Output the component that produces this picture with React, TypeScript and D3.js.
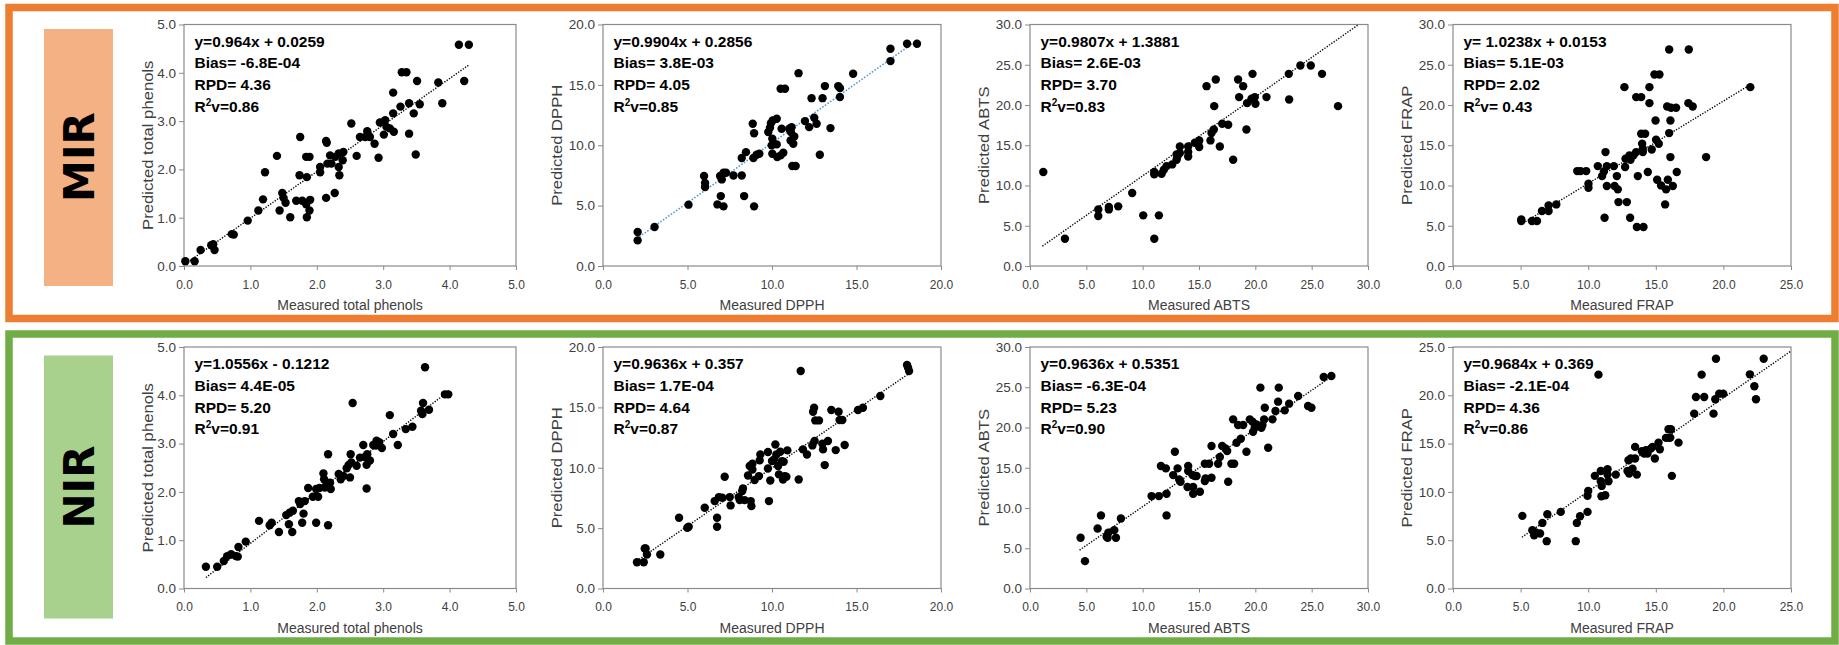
import React from 'react';
import * as d3 from 'd3';

// points: [measured, predicted]
const mirPhenols = [[0.02,0.10],[0.16,0.10],[0.25,0.33],[0.41,0.43],[0.44,0.45],[0.46,0.33],[0.72,0.66],[0.75,0.65],[0.96,0.94],[1.12,1.15],[1.19,1.38],[1.22,1.94],[1.40,2.28],[1.44,1.15],[1.48,1.51],[1.50,1.41],[1.53,1.31],[1.60,1.01],[1.69,1.35],[1.74,1.88],[1.75,2.67],[1.78,1.35],[1.84,2.26],[1.85,1.84],[1.85,1.01],[1.84,1.28],[1.89,2.26],[1.90,1.37],[1.89,1.15],[2.05,2.05],[2.05,1.94],[2.14,2.59],[2.15,2.55],[2.14,1.41],[2.16,2.12],[2.20,2.29],[2.22,2.12],[2.27,1.51],[2.28,2.26],[2.33,2.33],[2.33,2.05],[2.34,1.88],[2.39,2.19],[2.40,2.36],[2.52,2.95],[2.60,2.28],[2.65,2.67],[2.73,2.67],[2.76,2.79],[2.80,2.67],[2.87,2.53],[2.93,2.24],[2.95,2.97],[3.01,2.72],[3.03,3.02],[3.05,2.88],[3.10,2.85],[3.15,3.16],[3.16,2.78],[3.15,3.59],[3.28,4.01],[3.35,4.01],[3.26,3.30],[3.39,3.37],[3.39,2.74],[3.46,3.16],[3.49,2.31],[3.51,3.83],[3.55,3.35],[3.83,3.80],[3.89,3.37],[4.14,4.58],[4.29,4.58],[4.22,3.83]];
const mirDpph = [[2.05,2.81],[2.05,2.12],[3.05,3.23],[5.06,5.08],[5.98,7.45],[6.04,6.87],[6.04,6.54],[6.77,5.10],[6.97,5.79],[7.13,4.94],[6.93,7.45],[7.03,7.17],[7.13,7.72],[7.28,7.72],[7.72,7.50],[8.21,7.50],[8.35,5.79],[8.21,8.94],[8.46,9.43],[8.86,11.78],[8.94,11.0],[8.94,4.94],[8.90,8.94],[9.09,9.21],[9.25,9.30],[9.78,11.09],[9.88,11.45],[9.94,11.83],[10.04,12.06],[10.28,12.19],[9.98,9.99],[10.02,10.54],[10.02,9.30],[10.28,10.07],[10.31,9.02],[10.51,9.16],[10.67,9.38],[10.57,11.37],[10.51,14.68],[10.77,14.68],[11.02,11.37],[11.10,10.40],[11.16,11.50],[11.26,10.12],[11.32,10.73],[11.20,8.28],[11.40,8.28],[11.12,11.09],[11.57,15.97],[11.95,12.0],[12.20,11.50],[12.34,13.90],[12.50,12.28],[12.64,11.78],[12.83,9.21],[12.99,13.90],[13.13,14.90],[13.46,11.42],[13.92,14.90],[14.02,14.73],[14.02,13.99],[14.80,15.92],[17.01,17.99],[17.01,16.97],[17.99,18.40],[18.58,18.40]];
const mirAbts = [[1.18,11.67],[3.10,3.39],[6.06,7.03],[6.06,6.21],[7.0,7.32],[7.0,7.03],[7.83,7.41],[9.07,9.06],[10.05,6.29],[11.03,11.67],[11.03,11.38],[11.03,3.39],[11.44,6.29],[11.68,11.46],[11.88,11.96],[12.12,12.41],[12.62,12.62],[13.01,13.20],[13.01,13.86],[13.07,13.53],[13.30,14.85],[13.30,14.03],[14.04,14.85],[14.04,14.15],[14.04,13.61],[14.63,15.31],[14.93,15.18],[15.02,15.60],[15.02,14.77],[15.67,22.34],[16.02,15.60],[16.11,16.51],[16.32,16.96],[16.35,19.86],[16.49,23.17],[16.85,14.85],[17.06,17.67],[17.59,17.54],[18.03,13.20],[18.47,23.17],[18.56,20.98],[18.92,22.34],[19.21,16.96],[19.27,20.23],[19.75,23.87],[19.66,20.77],[19.95,20.98],[20.01,20.15],[20.99,20.98],[22.97,23.87],[23.0,20.69],[24.0,24.91],[24.92,24.91],[25.92,23.87],[27.34,19.86]];
const mirFrap = [[5.05,5.79],[5.05,5.59],[5.84,5.59],[6.21,5.59],[6.58,6.83],[7.07,6.83],[7.07,7.53],[7.64,7.65],[9.19,11.79],[9.43,11.79],[9.85,11.79],[10.02,10.22],[10.02,9.72],[10.71,12.41],[11.03,11.17],[11.16,11.75],[11.28,14.15],[11.38,12.41],[11.38,9.93],[11.21,6.0],[11.90,12.41],[11.95,9.93],[12.12,11.17],[12.19,9.52],[12.24,7.94],[12.68,22.22],[12.73,12.29],[12.76,13.32],[12.86,7.94],[13.05,13.74],[13.13,13.20],[13.35,13.74],[13.10,6.0],[13.55,20.98],[13.55,14.15],[13.67,11.17],[13.92,20.98],[13.92,16.43],[13.99,15.18],[14.04,14.56],[14.04,14.15],[13.60,4.84],[14.09,4.84],[14.21,16.43],[14.41,11.67],[14.53,22.22],[14.53,20.23],[14.70,14.48],[14.90,23.79],[15.27,23.79],[14.98,18.08],[15.02,15.68],[15.10,10.72],[15.22,15.18],[15.39,10.01],[15.69,7.65],[15.76,9.52],[15.89,10.72],[15.84,19.82],[15.99,26.89],[15.99,16.51],[16.08,18.08],[16.08,13.53],[16.13,19.65],[16.26,9.93],[16.50,19.65],[16.55,11.67],[17.41,20.23],[17.44,26.89],[17.73,19.82],[18.72,13.53],[21.99,22.22]];
const nirPhenols = [[0.33,0.45],[0.50,0.45],[0.60,0.57],[0.65,0.67],[0.71,0.71],[0.78,0.67],[0.81,0.66],[0.82,0.86],[0.93,0.97],[1.13,1.40],[1.29,1.31],[1.32,1.36],[1.43,1.17],[1.54,1.52],[1.58,1.33],[1.59,1.57],[1.64,1.61],[1.63,1.17],[1.73,1.81],[1.75,1.75],[1.78,1.36],[1.80,1.55],[1.82,1.81],[1.87,2.08],[1.94,1.90],[1.99,2.06],[1.99,1.36],[2.02,1.90],[2.04,2.08],[2.10,2.38],[2.11,2.26],[2.12,2.09],[2.15,2.16],[2.17,2.78],[2.17,1.31],[2.20,2.19],[2.21,2.06],[2.33,2.37],[2.36,2.26],[2.40,2.33],[2.45,2.49],[2.48,2.56],[2.50,2.30],[2.51,2.78],[2.52,2.61],[2.54,3.84],[2.60,2.54],[2.65,2.71],[2.70,2.97],[2.72,2.72],[2.75,2.56],[2.75,2.07],[2.76,2.78],[2.80,2.65],[2.85,2.97],[2.90,3.06],[2.89,2.96],[2.94,3.03],[2.98,2.91],[3.10,3.59],[3.15,3.20],[3.22,2.97],[3.34,3.30],[3.44,3.35],[3.57,3.68],[3.59,3.61],[3.60,3.84],[3.63,4.58],[3.69,3.70],[3.93,4.02],[3.98,4.02]];
const nirDpph = [[2.01,2.18],[2.41,2.18],[2.47,3.31],[2.52,3.31],[2.60,2.82],[3.39,2.82],[4.50,5.86],[4.99,5.03],[5.07,5.11],[6.02,6.69],[6.61,7.24],[6.75,5.86],[6.75,5.11],[6.86,7.57],[7.06,7.51],[7.20,9.25],[7.50,7.57],[7.55,6.88],[8.03,7.57],[8.09,7.32],[8.24,8.07],[8.28,8.29],[8.38,7.32],[8.58,9.36],[8.68,10.14],[8.74,7.24],[8.78,6.82],[8.84,10.33],[8.84,9.86],[8.97,8.98],[9.23,9.31],[9.27,10.61],[9.31,11.10],[9.76,11.30],[9.76,9.94],[9.82,7.24],[9.90,8.95],[10.0,10.55],[10.12,10.69],[10.20,11.93],[10.26,11.10],[10.36,10.14],[10.41,9.45],[10.49,11.33],[10.59,10.55],[10.69,10.50],[10.65,9.03],[10.75,9.31],[10.85,9.25],[10.91,11.44],[11.58,9.03],[11.70,18.01],[11.83,11.52],[12.07,11.10],[12.39,11.85],[12.43,14.64],[12.49,14.97],[12.52,12.21],[12.56,13.92],[12.78,13.92],[12.98,11.99],[13.02,11.52],[13.12,10.22],[13.31,12.21],[13.51,14.78],[13.77,11.46],[13.94,14.64],[14.0,13.95],[14.16,13.95],[14.30,11.88],[15.09,14.78],[15.38,14.97],[16.41,15.94],[17.99,18.51],[18.05,18.29],[18.11,18.01]];
const nirAbts = [[4.49,6.30],[4.88,3.40],[6.0,7.46],[6.30,9.08],[6.80,6.42],[6.95,6.92],[6.89,6.30],[7.48,7.25],[7.63,6.30],[8.07,8.70],[10.79,11.48],[11.44,11.48],[11.62,15.21],[12.06,14.92],[12.12,11.77],[12.12,9.08],[12.86,16.99],[12.71,14.09],[13.10,14.92],[13.24,13.55],[13.36,13.26],[14.04,15.21],[14.04,14.59],[13.98,12.60],[14.43,14.09],[14.48,12.60],[14.48,11.77],[14.63,13.97],[14.78,13.97],[15.08,12.02],[15.52,15.50],[15.52,13.34],[15.58,13.68],[15.90,15.50],[16.11,13.76],[16.11,17.70],[16.70,15.50],[16.85,16.33],[17.06,17.70],[17.35,17.41],[17.50,17.07],[17.59,13.26],[17.88,15.50],[18.12,15.50],[18.03,21.01],[18.33,18.11],[18.47,20.31],[18.71,18.61],[18.92,20.31],[19.21,16.99],[19.51,21.01],[19.75,20.72],[19.80,19.48],[19.95,19.97],[20.10,20.39],[20.45,24.95],[20.54,19.97],[20.63,20.31],[20.78,21.01],[20.84,22.46],[21.14,17.49],[21.52,21.01],[21.79,22.05],[22.02,23.21],[22.08,24.95],[22.61,22.13],[23.0,22.96],[23.80,23.91],[24.68,22.67],[24.98,22.46],[26.07,26.27],[26.75,26.40]];
const nirFrap = [[5.13,7.52],[5.87,6.03],[6.0,5.52],[6.12,5.79],[6.44,5.69],[6.61,6.79],[6.93,4.90],[6.98,7.69],[7.97,7.93],[9.08,4.90],[9.16,6.79],[9.40,7.48],[9.95,7.93],[9.95,9.59],[10.0,10.10],[10.49,11.66],[10.76,22.14],[10.93,12.17],[10.93,11.10],[11.0,10.62],[10.98,9.55],[11.26,9.66],[11.43,12.34],[11.43,11.79],[11.50,11.10],[12.04,11.79],[12.91,12.17],[12.98,13.28],[13.03,11.90],[13.15,13.45],[13.28,12.41],[13.47,13.45],[13.47,14.66],[13.60,11.79],[13.97,14.21],[14.14,13.97],[14.26,14.31],[14.39,13.97],[14.63,14.48],[14.76,14.66],[14.93,13.45],[15.20,15.10],[15.30,14.41],[15.75,15.59],[15.94,16.48],[15.99,15.59],[16.12,16.48],[16.07,15.62],[16.19,11.66],[16.68,15.10],[17.84,18.10],[17.97,19.83],[18.39,22.14],[18.58,19.83],[19.27,18.10],[19.40,19.59],[19.45,23.79],[19.69,20.17],[19.99,20.17],[21.96,22.17],[22.29,20.93],[22.41,19.59],[22.98,23.79]];

const techniques = ['MIR', 'NIR'];
const points = [[mirPhenols, mirDpph, mirAbts, mirFrap], [nirPhenols, nirDpph, nirAbts, nirFrap]];
const measuredLabels = ['Measured total phenols', 'Measured DPPH', 'Measured ABTS', 'Measured FRAP'];
const predictedLabels = ['Predicted total phenols', 'Predicted DPPH', 'Predicted ABTS', 'Predicted FRAP'];
const xMax = [[5, 20, 30, 25], [5, 20, 30, 25]];
const yMax = [[5, 20, 30, 30], [5, 20, 30, 25]];
const tickStep = [1, 5, 5, 5];
const equations = [
  ['y=0.964x + 0.0259', 'y=0.9904x + 0.2856', 'y=0.9807x + 1.3881', 'y= 1.0238x + 0.0153'],
  ['y=1.0556x - 0.1212', 'y=0.9636x + 0.357', 'y=0.9636x + 0.5351', 'y=0.9684x + 0.369'],
];
const slopes = [[0.964, 0.9904, 0.9807, 1.0238], [1.0556, 0.9636, 0.9636, 0.9684]];
const intercepts = [[0.0259, 0.2856, 1.3881, 0.0153], [-0.1212, 0.357, 0.5351, 0.369]];
const trendFrom = [[0.02, 2.0, 1.1, 5.0], [0.33, 2.0, 4.4, 5.1]];
const trendTo = [[4.3, 18.6, 29.1, 22.0], [4.0, 18.1, 26.5, 25.0]];
const biases = [['-6.8E-04', '3.8E-03', '2.6E-03', '5.1E-03'], ['4.4E-05', '1.7E-04', '-6.3E-04', '-2.1E-04']];
const rpds = [['4.36', '4.05', '3.70', '2.02'], ['5.20', '4.64', '5.23', '4.36']];
const r2v = [['=0.86', '=0.85', '=0.83', '= 0.43'], ['=0.91', '=0.87', '=0.90', '=0.86']];

const FONT = 'Liberation Sans, Arial, sans-serif';
const frameColors = ['#ED7D31', '#70AD47'];
const boxColors = ['#F4B183', '#A9D18E'];
const colLeft = [184, 603, 1030, 1453];
const colWidth = [332, 338, 338, 338];
const rowTop = [24.5, 347];
const plotH = 241.5;

const Axis = ({ scale, ticks, dir, x, y }) => {
  const ref = (node) => {
    if (!node) return;
    const axis = dir === 'x' ? d3.axisBottom(scale) : d3.axisLeft(scale);
    axis.tickValues(ticks).tickSize(dir === 'x' ? 4 : 5).tickPadding(dir === 'x' ? 10 : 3).tickFormat(d3.format('.1f'));
    const g = d3.select(node);
    g.call(axis);
    g.select('.domain').remove();
    g.attr('font-family', FONT).attr('font-size', dir === 'x' ? 12 : 13.5);
    g.selectAll('line').attr('stroke', '#8a8a8a');
    g.selectAll('text').attr('fill', '#404040');
  };
  return <g ref={ref} transform={`translate(${x},${y})`} />;
};

function Panel({ row, col }) {
  const left = colLeft[col];
  const top = rowTop[row];
  const w = colWidth[col];
  const xs = d3.scaleLinear().domain([0, xMax[row][col]]).range([left, left + w]);
  const ys = d3.scaleLinear().domain([0, yMax[row][col]]).range([top + plotH, top]);
  const xt = d3.range(0, xMax[row][col] + 0.001, tickStep[col]);
  const yt = d3.range(0, yMax[row][col] + 0.001, tickStep[col]);
  const m = slopes[row][col];
  const b = intercepts[row][col];
  const trend = [trendFrom[row][col], trendTo[row][col]].map((v) => [v, m * v + b]);
  const line = d3.line().x((d) => xs(d[0])).y((d) => ys(d[1]));
  const blue = row === 0 && col === 1;
  const yTitleX = left - (yMax[row][col] >= 10 ? 41.5 : 31.5);
  const tx = left + 10.5;
  const lh = 21.8;
  return (
    <g>
      <rect x={left} y={top} width={w} height={plotH} fill="none" stroke="#8a8a8a" strokeWidth={1.2} />
      <Axis scale={ys} ticks={yt} dir="y" x={left} y={0} />
      <Axis scale={xs} ticks={xt} dir="x" x={0} y={top + plotH} />
      <path d={line(trend)} fill="none" stroke={blue ? '#5B9BD5' : '#000'} strokeWidth={blue ? 1.6 : 1.4}
        strokeDasharray={blue ? '1.6 1.6' : '1.3 1.5'} />
      {points[row][col].map((p, i) => (
        <circle key={i} cx={xs(p[0])} cy={ys(p[1])} r={4.2} fill="#000" />
      ))}
      <g fontFamily={FONT} fontWeight="bold" fontSize={15.5} fill="#000">
        <text x={tx} y={top + 22}>{equations[row][col]}</text>
        <text x={tx} y={top + 22 + lh}>{'Bias= ' + biases[row][col]}</text>
        <text x={tx} y={top + 22 + lh * 2}>{'RPD= ' + rpds[row][col]}</text>
        <text x={tx} y={top + 22 + lh * 3}>R<tspan fontSize={10} dy={-6}>2</tspan><tspan dy={6}>{'v' + r2v[row][col]}</tspan></text>
      </g>
      <text x={left + w / 2} y={top + plotH + 44} textAnchor="middle" fontFamily={FONT} fontSize={14} fill="#404040">
        {measuredLabels[col]}
      </text>
      <text transform={`translate(${yTitleX},${top + plotH / 2}) rotate(-90) scale(1.19,1)`} textAnchor="middle"
        fontFamily={FONT} fontSize={14} fill="#404040">
        {predictedLabels[col]}
      </text>
    </g>
  );
}

export default function App() {
  return (
    <div style={{ position: 'absolute', left: 0, top: 0 }}>
      <svg width={1839} height={645} style={{ display: 'block', background: '#fff' }}>
        {techniques.map((t, row) => (
          <g key={t}>
            <rect x={9} y={row === 0 ? 7.5 : 334} width={1826} height={row === 0 ? 311 : 307} fill="#fff"
              stroke={frameColors[row]} strokeWidth={7.5} />
            <rect x={44} y={row === 0 ? 29 : 355.5} width={69} height={row === 0 ? 257 : 263} fill={boxColors[row]} />
            <text transform={`translate(93.5,${row === 0 ? 157 : 487}) rotate(-90)`} textAnchor="middle"
              fontFamily="DejaVu Sans, sans-serif" fontWeight="bold" fontSize={42} fill="#000">{t}</text>
            {[0, 1, 2, 3].map((col) => <Panel key={col} row={row} col={col} />)}
          </g>
        ))}
      </svg>
    </div>
  );
}
